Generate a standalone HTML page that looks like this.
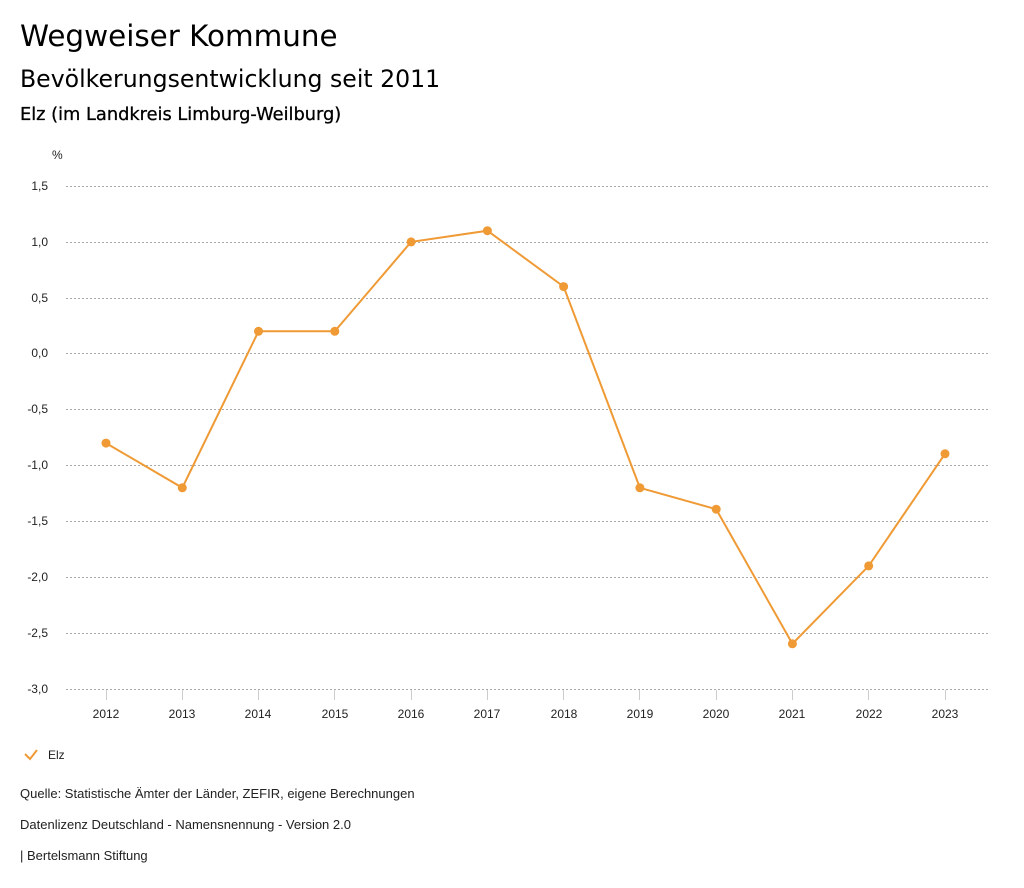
<!DOCTYPE html>
<html><head><meta charset="utf-8"><style>
body{margin:0;width:1024px;height:888px;background:#fff;overflow:hidden;font-family:"DejaVu Sans","Liberation Sans",sans-serif;}
.t{position:absolute;left:20px;color:#000;white-space:nowrap}
</style></head><body>
<div class="t" style="top:19px;font-size:29.4px;">Wegweiser Kommune</div>
<div class="t" style="top:65px;font-size:23.6px;">Bevölkerungsentwicklung seit 2011</div>
<div class="t" style="top:104px;font-size:17.8px;font-weight:500;-webkit-text-stroke:0.3px #000;">Elz (im Landkreis Limburg-Weilburg)</div>
<svg width="1024" height="888" style="position:absolute;left:0;top:0" font-family="Liberation Sans, sans-serif" font-size="12" fill="#222">
<text x="52" y="159">%</text>
<g stroke="#aaa" stroke-dasharray="2,2" stroke-width="1">
<line x1="66" x2="990" y1="186.5" y2="186.5"/><line x1="66" x2="990" y1="242.5" y2="242.5"/>
<line x1="66" x2="990" y1="298.5" y2="298.5"/><line x1="66" x2="990" y1="353.5" y2="353.5"/>
<line x1="66" x2="990" y1="409.5" y2="409.5"/><line x1="66" x2="990" y1="465.5" y2="465.5"/>
<line x1="66" x2="990" y1="521.5" y2="521.5"/><line x1="66" x2="990" y1="577.5" y2="577.5"/>
<line x1="66" x2="990" y1="633.5" y2="633.5"/><line x1="66" x2="990" y1="689.5" y2="689.5"/>
</g>
<g text-anchor="end">
<text x="48" y="190">1,5</text><text x="48" y="246">1,0</text><text x="48" y="302">0,5</text>
<text x="48" y="357">0,0</text><text x="48" y="413">-0,5</text><text x="48" y="469">-1,0</text>
<text x="48" y="525">-1,5</text><text x="48" y="581">-2,0</text><text x="48" y="637">-2,5</text><text x="48" y="693">-3,0</text>
</g>
<g stroke="#ccc"><line x1="106.5" x2="106.5" y1="690" y2="700"/><line x1="182.5" x2="182.5" y1="690" y2="700"/><line x1="258.5" x2="258.5" y1="690" y2="700"/><line x1="334.5" x2="334.5" y1="690" y2="700"/><line x1="411.5" x2="411.5" y1="690" y2="700"/><line x1="487.5" x2="487.5" y1="690" y2="700"/><line x1="563.5" x2="563.5" y1="690" y2="700"/><line x1="639.5" x2="639.5" y1="690" y2="700"/><line x1="716.5" x2="716.5" y1="690" y2="700"/><line x1="792.5" x2="792.5" y1="690" y2="700"/><line x1="868.5" x2="868.5" y1="690" y2="700"/><line x1="945.5" x2="945.5" y1="690" y2="700"/></g>
<g text-anchor="middle">
<text x="106" y="718">2012</text><text x="182" y="718">2013</text><text x="258" y="718">2014</text><text x="335" y="718">2015</text><text x="411" y="718">2016</text><text x="487" y="718">2017</text><text x="564" y="718">2018</text><text x="640" y="718">2019</text><text x="716" y="718">2020</text><text x="792" y="718">2021</text><text x="869" y="718">2022</text><text x="945" y="718">2023</text>
</g>
<polyline fill="none" stroke="#ef9a35" stroke-width="2" points="106,443.1 182.3,487.8 258.5,331.3 334.8,331.3 411.1,241.9 487.4,230.7 563.6,286.6 639.9,487.8 716.2,509.2 792.4,643.8 868.7,565.9 945,453.8"/>
<g fill="#ef9a35"><circle cx="106" cy="443.1" r="4.5"/><circle cx="182.3" cy="487.8" r="4.5"/><circle cx="258.5" cy="331.3" r="4.5"/><circle cx="334.8" cy="331.3" r="4.5"/><circle cx="411.1" cy="241.9" r="4.5"/><circle cx="487.4" cy="230.7" r="4.5"/><circle cx="563.6" cy="286.6" r="4.5"/><circle cx="639.9" cy="487.8" r="4.5"/><circle cx="716.2" cy="509.2" r="4.5"/><circle cx="792.4" cy="643.8" r="4.5"/><circle cx="868.7" cy="565.9" r="4.5"/><circle cx="945" cy="453.8" r="4.5"/></g>
<polyline fill="none" stroke="#ef9a35" stroke-width="2" points="25,754 30,759 37,750"/>
<text x="48" y="759">Elz</text>
<g font-size="13">
<text x="20" y="798">Quelle: Statistische Ämter der Länder, ZEFIR, eigene Berechnungen</text>
<text x="20" y="829">Datenlizenz Deutschland - Namensnennung - Version 2.0</text>
<text x="20" y="860">| Bertelsmann Stiftung</text>
</g>
</svg>
</body></html>
